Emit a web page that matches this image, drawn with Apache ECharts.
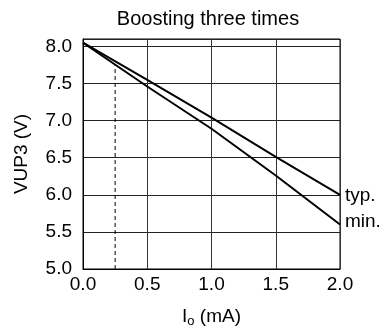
<!DOCTYPE html>
<html>
<head>
<meta charset="utf-8">
<script src="https://cdn.jsdelivr.net/npm/echarts@6/dist/echarts.min.js"></script>
<style>
  html, body { margin: 0; padding: 0; background: #fff; }
  #chart { width: 384px; height: 333px; }
</style>
</head>
<body>
<div id="chart"></div>
<script>
// 数据
var xValues = [0, 0.5, 1.0, 1.5, 2.0];
var typValues = [8.05, 7.55, 7.04, 6.51, 6.0];
var minValues = [8.05, 7.46, 6.89, 6.26, 5.6];
var markerX = [0.25, 0.25];
var markerY = [5.0, 7.76];
var yTicks = [5.0, 5.5, 6.0, 6.5, 7.0, 7.5, 8.0];

function pairs(xs, ys) {
  var out = [];
  for (var i = 0; i < xs.length; i += 1) {
    out.push([xs[i], ys[i]]);
  }
  return out;
}

var font = "Liberation Sans, Arial, sans-serif";
var chart = echarts.init(document.getElementById("chart"));
var option = {
  animation: false,
  title: {
    text: "Boosting three times",
    left: 203,
    textAlign: "center",
    top: 4,
    textStyle: { fontFamily: font, fontSize: 20, fontWeight: "normal", color: "#000" },
  },
  grid: {
    left: 83,
    right: 44,
    top: 39,
    bottom: 59,
    show: true,
    borderColor: "#000",
    borderWidth: 1,
  },
  xAxis: {
    type: "value",
    min: 0,
    max: 2,
    interval: 0.5,
    name: "{a|I}{sub|o}{a| (mA)}",
    nameLocation: "middle",
    nameGap: 37,
    nameTextStyle: {
      fontFamily: font,
      color: "#000",
      rich: {
        a: { fontFamily: font, fontSize: 19, color: "#000", lineHeight: 21 },
        sub: { fontFamily: font, fontSize: 13, color: "#000", padding: [9, 0, 0, 0] },
      },
    },
    axisLine: { show: true, lineStyle: { color: "#000", width: 1 } },
    axisTick: { show: false },
    axisLabel: {
      fontFamily: font,
      fontSize: 19,
      color: "#000",
      margin: 6,
      formatter: function (v) { return v.toFixed(1); },
    },
    splitLine: { show: true, lineStyle: { color: "#333", width: 1 } },
  },
  yAxis: {
    type: "value",
    min: 5,
    max: 8.1,
    interval: 0.5,
    name: "VUP3 (V)",
    nameLocation: "middle",
    nameGap: 52,
    nameTextStyle: { fontFamily: font, fontSize: 19, color: "#000" },
    axisLine: { show: true, lineStyle: { color: "#000", width: 1 } },
    axisTick: { show: false },
    axisLabel: {
      fontFamily: font,
      fontSize: 19,
      color: "#000",
      margin: 11,
      formatter: function (v) {
        // 8.1 是上边框, 不显示
        return yTicks.indexOf(Math.round(v * 10) / 10) >= 0 ? v.toFixed(1) : "";
      },
    },
    splitLine: { show: true, lineStyle: { color: "#222", width: 1 } },
  },
  series: [
    {
      name: "typ.",
      type: "line",
      data: pairs(xValues, typValues),
      symbol: "none",
      lineStyle: { color: "#000", width: 2 },
      endLabel: {
        show: true,
        formatter: "typ.",
        fontFamily: font,
        fontSize: 19,
        color: "#000",
        distance: 5,
        offset: [0, 1],
      },
    },
    {
      name: "min.",
      type: "line",
      data: pairs(xValues, minValues),
      symbol: "none",
      lineStyle: { color: "#000", width: 2 },
      endLabel: {
        show: true,
        formatter: "min.",
        fontFamily: font,
        fontSize: 19,
        color: "#000",
        distance: 5,
        offset: [0, -3],
      },
    },
    {
      name: "marker",
      type: "line",
      data: pairs(markerX, markerY),
      symbol: "none",
      lineStyle: { color: "#000", width: 1, type: [4, 3] },
    },
  ],
};
chart.setOption(option);
</script>
</body>
</html>
